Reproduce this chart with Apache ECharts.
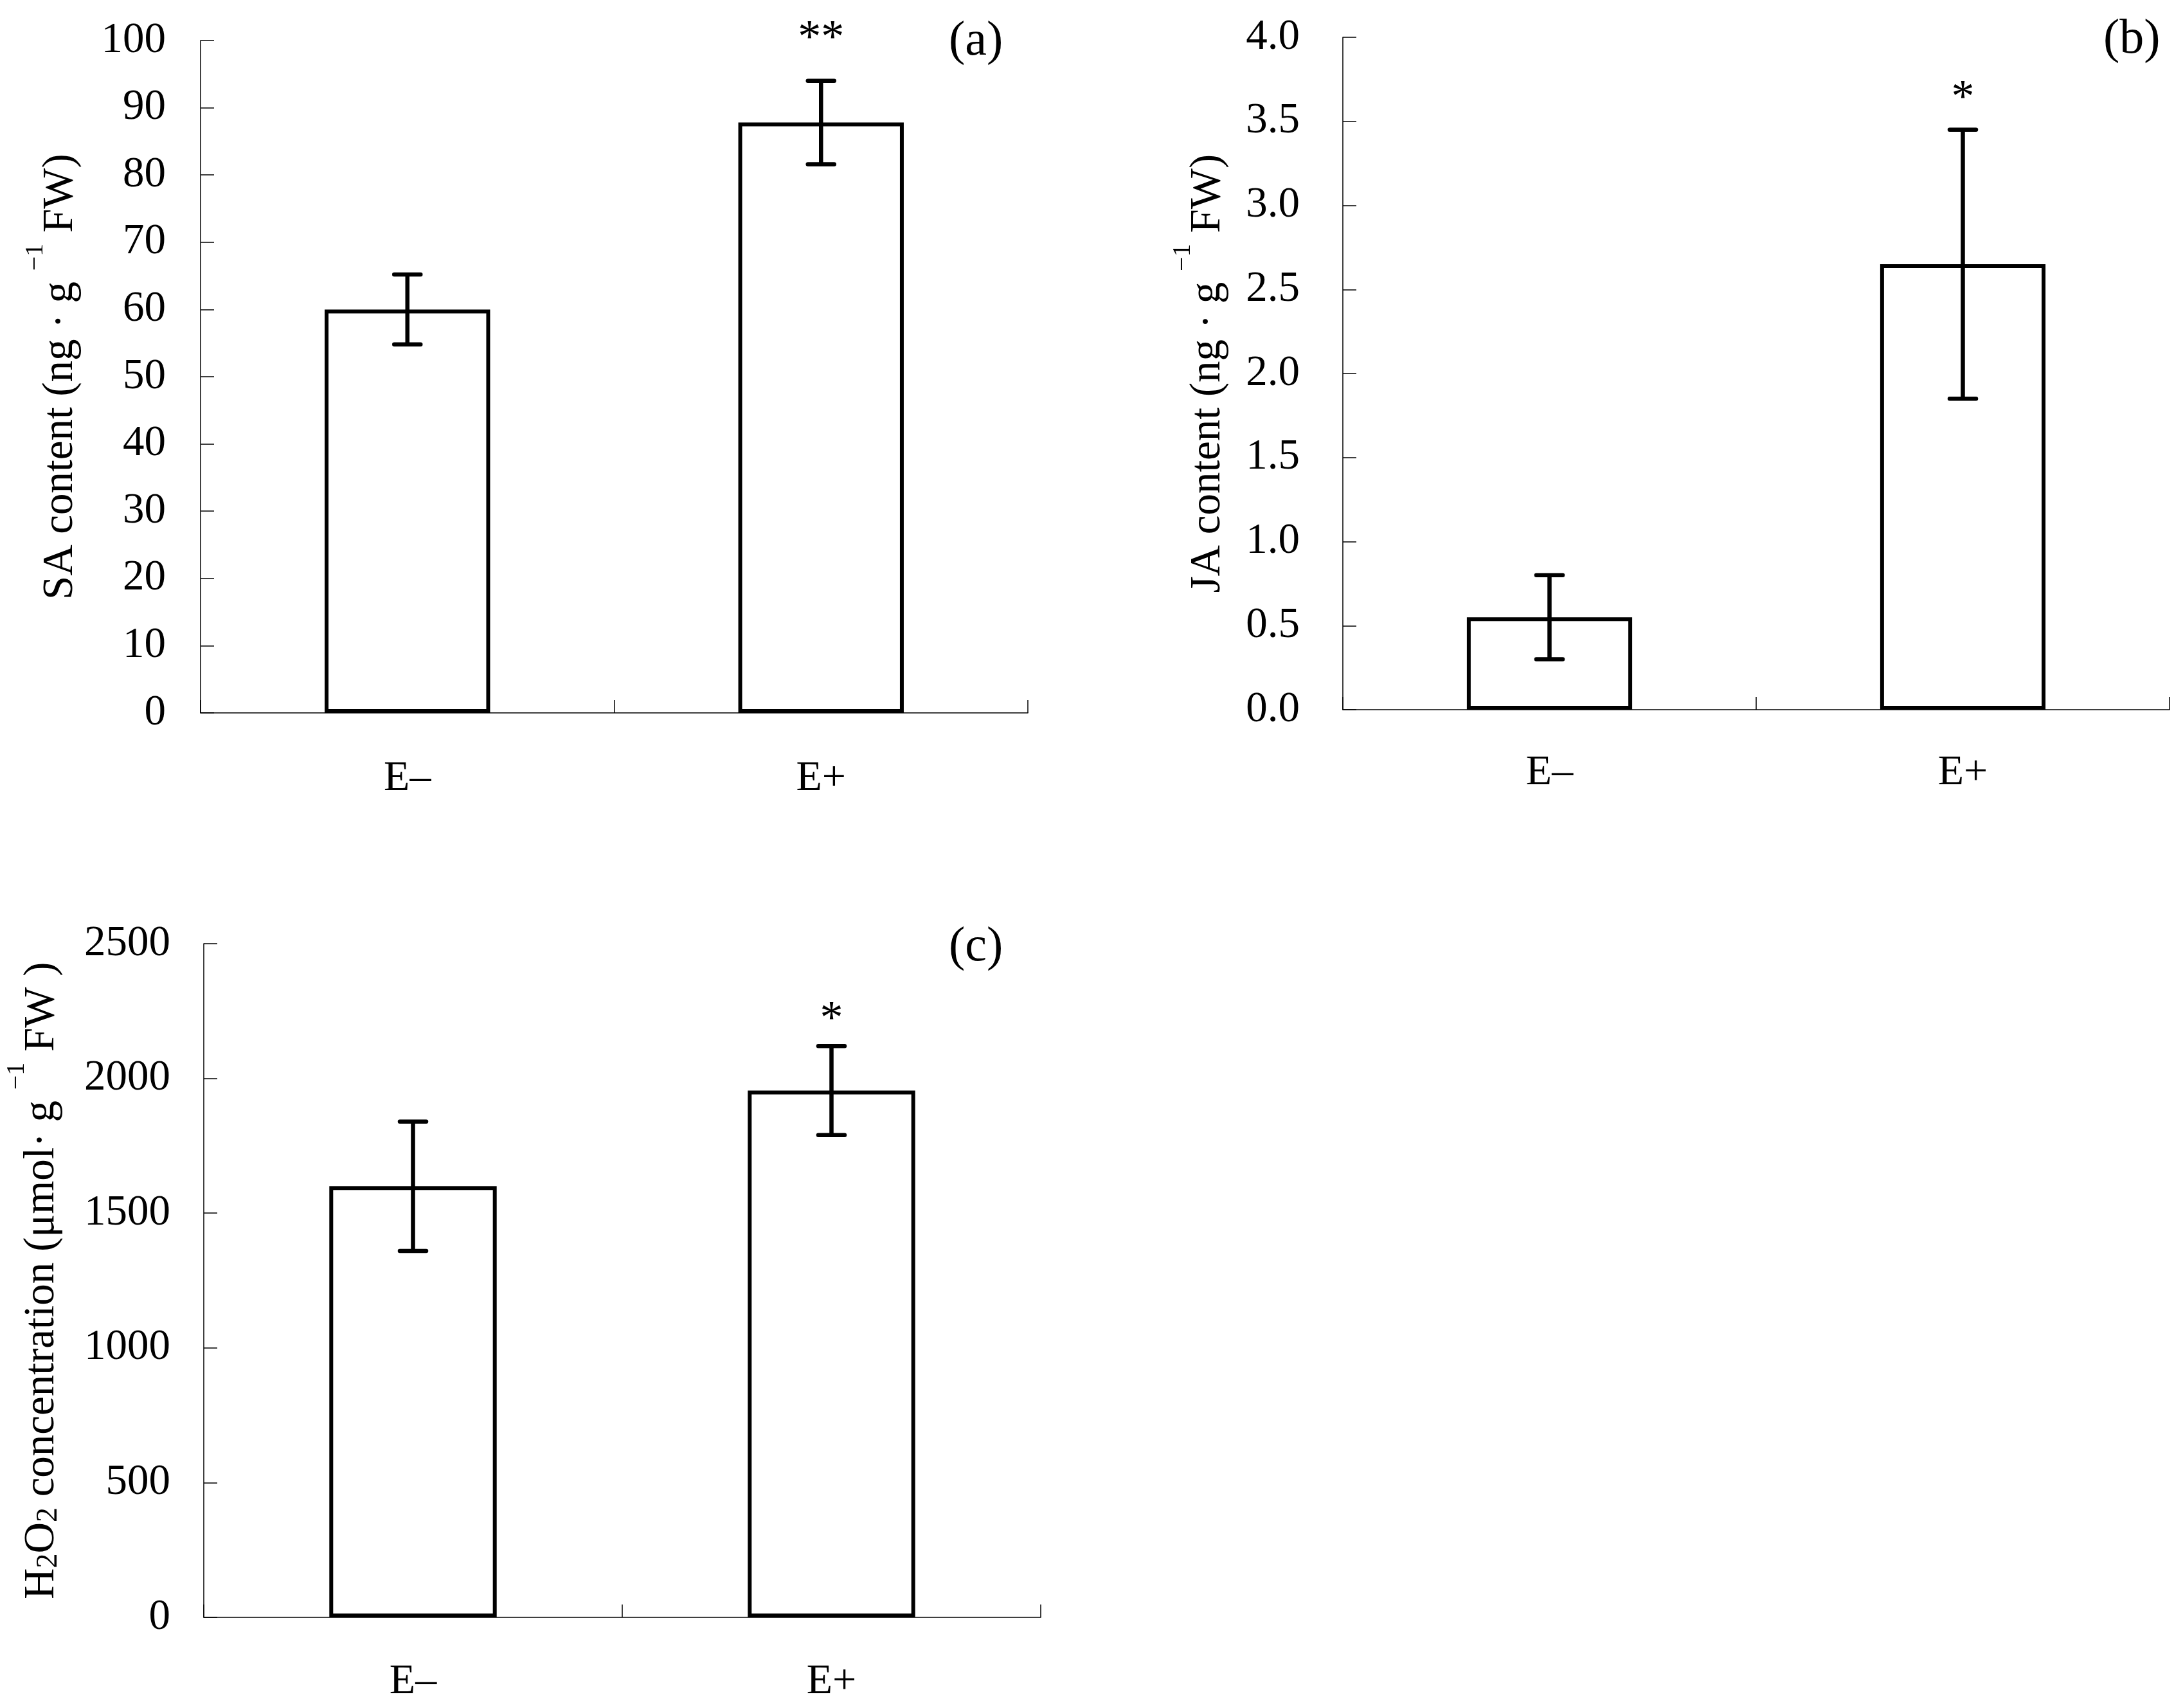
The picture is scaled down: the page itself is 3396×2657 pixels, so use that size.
<!DOCTYPE html>
<html>
<head>
<meta charset="utf-8">
<script src="https://cdn.jsdelivr.net/npm/echarts@6/dist/echarts.min.js"></script>
<style>
html,body{margin:0;padding:0;background:#ffffff;}
#chart{width:3396px;height:2657px;}
</style>
</head>
<body>
<div id="chart"></div>
<script>
// ---- data ----
const categories = ['E–', 'E+'];

const saMean = [60.0, 87.8];
const saErr = [5.2, 6.2];
const saSig = ['', '**'];
const saAxis = [0, 100, 10];          // min, max, interval

const jaMean = [0.55, 2.65];
const jaErr = [0.25, 0.80];
const jaSig = ['', '*'];
const jaAxis = [0, 4, 0.5];

const h2o2Mean = [1600, 1955];
const h2o2Err = [240, 165];
const h2o2Sig = ['', '*'];
const h2o2Axis = [0, 2500, 500];

const panelLabels = ['(a)', '(b)', '(c)'];
const yNames = [
  '{m|SA content (ng · g }{sup|−1}{m| FW)}{h| }',
  '{m|JA content (ng · g }{sup|−1}{m| FW)}{h| }',
  '{m|H}{s|2}{m|O}{s|2}{m| concentration (μmol· g }{sup|−1}{m| FW )}{h| }'
];
const tickDecimals = [0, 1, 0];

// ---- styling ----
const FONT = '"Liberation Serif", "Times New Roman", serif';
const grids = [
  {left: 312, top: 63, width: 1287, height: 1046},
  {left: 2089, top: 58, width: 1286, height: 1046},
  {left: 317, top: 1468, width: 1302, height: 1048}
];
const labelMargins = [54, 67, 52];
const nameGaps = [184, 176, 218];
const xLabelMargins = [70, 66, 68];
const starGaps = [65, 48, 40];

const richName = {
  m: {fontSize: 67, fontFamily: FONT, color: '#000', lineHeight: 66, verticalAlign: 'bottom'},
  s: {fontSize: 46, fontFamily: FONT, color: '#000', lineHeight: 52, verticalAlign: 'bottom'},
  sup: {fontSize: 40, fontFamily: FONT, color: '#000', lineHeight: 40, verticalAlign: 'top'},
  h: {fontSize: 1, lineHeight: 93, verticalAlign: 'middle'}
};

const means = [saMean, jaMean, h2o2Mean];
const errs = [saErr, jaErr, h2o2Err];
const sigs = [saSig, jaSig, h2o2Sig];
const axes = [saAxis, jaAxis, h2o2Axis];

const xAxes = [], yAxes = [], series = [];
for (let g = 0; g < 3; g++) {
  xAxes.push({
    type: 'category', gridIndex: g, data: categories,
    axisLine: {show: true, lineStyle: {color: '#000', width: 1.5}},
    axisTick: {show: true, inside: true, length: 20, lineStyle: {color: '#000', width: 1.5}},
    axisLabel: {color: '#000', fontSize: 66, fontFamily: FONT, margin: xLabelMargins[g]},
    splitLine: {show: false}
  });
  const dec = tickDecimals[g];
  yAxes.push({
    type: 'value', gridIndex: g,
    min: axes[g][0], max: axes[g][1], interval: axes[g][2],
    axisLine: {show: true, lineStyle: {color: '#000', width: 1.5}},
    axisTick: {show: true, inside: true, length: 21, lineStyle: {color: '#000', width: 1.5}},
    axisLabel: {color: '#000', fontSize: 67, fontFamily: FONT, margin: labelMargins[g],
      formatter: v => v.toFixed(dec)},
    splitLine: {show: false},
    name: yNames[g], nameLocation: 'middle', nameGap: nameGaps[g],
    nameTextStyle: {rich: richName, fontFamily: FONT, fontSize: 66, color: '#000'}
  });
  series.push({
    type: 'bar', xAxisIndex: g, yAxisIndex: g, data: means[g],
    barCategoryGap: '60%',
    itemStyle: {color: '#fff', borderColor: '#000', borderWidth: 6},
    silent: true, z: 2
  });
  const sg = sigs[g], gap = starGaps[g];
  series.push({
    type: 'custom', xAxisIndex: g, yAxisIndex: g, z: 10, silent: true,
    data: means[g].map((m, i) => [i, m, errs[g][i]]),
    renderItem: function (params, api) {
      const i = api.value(0), m = api.value(1), e = api.value(2);
      const top = api.coord([i, m + e]);
      const bot = api.coord([i, m - e]);
      const hw = 20.5;
      const st = {stroke: '#000', lineWidth: 6.5, lineCap: 'round'};
      const children = [
        {type: 'line', shape: {x1: top[0], y1: top[1], x2: bot[0], y2: bot[1]}, style: {stroke: '#000', lineWidth: 6.5}},
        {type: 'line', shape: {x1: top[0] - hw, y1: top[1], x2: top[0] + hw, y2: top[1]}, style: st},
        {type: 'line', shape: {x1: bot[0] - hw, y1: bot[1], x2: bot[0] + hw, y2: bot[1]}, style: st}
      ];
      const s = sg[params.dataIndex];
      if (s) {
        children.push({type: 'text', x: top[0], y: top[1] - gap,
          style: {text: s, fontSize: 72, fontFamily: FONT, fill: '#000', align: 'center', verticalAlign: 'middle'}});
      }
      return {type: 'group', children: children};
    }
  });
}

const titles = [
  {text: panelLabels[0], left: 1476, top: 27},
  {text: panelLabels[1], left: 3272, top: 24},
  {text: panelLabels[2], left: 1476, top: 1436}
].map(t => Object.assign(t, {padding: 0, textStyle: {fontSize: 76, fontWeight: 'normal', fontFamily: FONT, color: '#000'}}));

const chart = echarts.init(document.getElementById('chart'), null, {renderer: 'canvas'});
chart.setOption({
  backgroundColor: '#fff',
  animation: false,
  title: titles,
  grid: grids,
  xAxis: xAxes,
  yAxis: yAxes,
  series: series
});
</script>
</body>
</html>
